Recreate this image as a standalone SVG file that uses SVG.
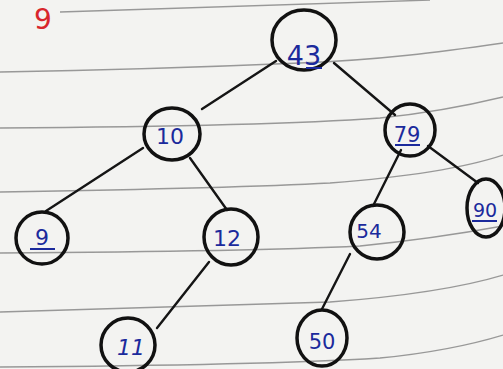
<svg xmlns="http://www.w3.org/2000/svg" width="503" height="369" viewBox="0 0 503 369">
<style>
.paper{fill:#f3f3f1}
.rule{fill:none;stroke:#7a7a7a;stroke-width:1.3;opacity:0.75}
.node ellipse{fill:none;stroke:#111;stroke-width:3.5}
.node text{font-family:"DejaVu Sans","Liberation Sans",sans-serif;fill:#1b2a9c;text-anchor:middle}
.ul{stroke:#1b2a9c;stroke-width:2}
.edges line{stroke:#151515;stroke-width:2.4;stroke-linecap:round}
.red{font-family:"DejaVu Sans","Liberation Sans",sans-serif;fill:#d8262c}
</style>
<rect class="paper" x="0" y="0" width="503" height="369"/>
<g id="rules">
<path class="rule" d="M60,12 C200,8 330,4 430,0"/>
<path class="rule" d="M0,72 C120,70 230,66 300,63 C380,60 440,52 503,43"/>
<path class="rule" d="M0,128 C150,127 300,124 380,118 C430,113 470,105 503,97"/>
<path class="rule" d="M0,192 C120,190 240,188 330,183 C420,176 470,166 503,155"/>
<path class="rule" d="M0,253 C150,252 280,250 360,246 C420,240 470,232 503,226"/>
<path class="rule" d="M0,312 C150,308 260,305 330,302 C420,295 470,285 503,275"/>
<path class="rule" d="M0,367 C150,366 300,363 380,358 C440,352 480,342 503,335"/>
</g>
<text class="red" x="34" y="29" font-size="28">9</text>
<g id="edges" class="edges">
<line x1="276" y1="61" x2="202" y2="109"/>
<line x1="334" y1="63" x2="395" y2="115"/>
<line x1="143" y1="148" x2="46" y2="211"/>
<line x1="190" y1="158" x2="227" y2="210"/>
<line x1="401" y1="150" x2="373" y2="206"/>
<line x1="428" y1="146" x2="478" y2="183"/>
<line x1="209" y1="262" x2="157" y2="328"/>
<line x1="350" y1="254" x2="322" y2="309"/>
</g>
<g id="n43" class="node"><ellipse cx="304" cy="40" rx="32" ry="30"/><text x="304" y="65" font-size="27">43</text><line class="ul" x1="306" y1="68" x2="322" y2="68"/></g>
<g id="n10" class="node"><ellipse cx="172" cy="134" rx="28" ry="26"/><text x="170" y="144" font-size="22">10</text></g>
<g id="n79" class="node"><ellipse cx="410" cy="130" rx="25" ry="26"/><text x="407" y="142" font-size="21">79</text><line class="ul" x1="395" y1="145" x2="420" y2="145"/></g>
<g id="n9" class="node"><ellipse cx="42" cy="238" rx="26" ry="26"/><text x="42" y="245" font-size="22">9</text><line class="ul" x1="30" y1="249" x2="55" y2="249"/></g>
<g id="n12" class="node"><ellipse cx="231" cy="237" rx="27" ry="28"/><text x="227" y="246" font-size="22">12</text></g>
<g id="n54" class="node"><ellipse cx="377" cy="232" rx="27" ry="27"/><text x="369" y="238" font-size="20">54</text></g>
<g id="n90" class="node"><ellipse cx="486" cy="208" rx="19" ry="29"/><text x="485" y="217" font-size="19">90</text><line class="ul" x1="472" y1="221" x2="497" y2="221"/></g>
<g id="n11" class="node"><ellipse cx="128" cy="345" rx="27" ry="27"/><text x="131" y="355" font-size="22" font-style="italic">11</text></g>
<g id="n50" class="node"><ellipse cx="322" cy="338" rx="25" ry="28"/><text x="322" y="349" font-size="21">50</text></g>
</svg>
